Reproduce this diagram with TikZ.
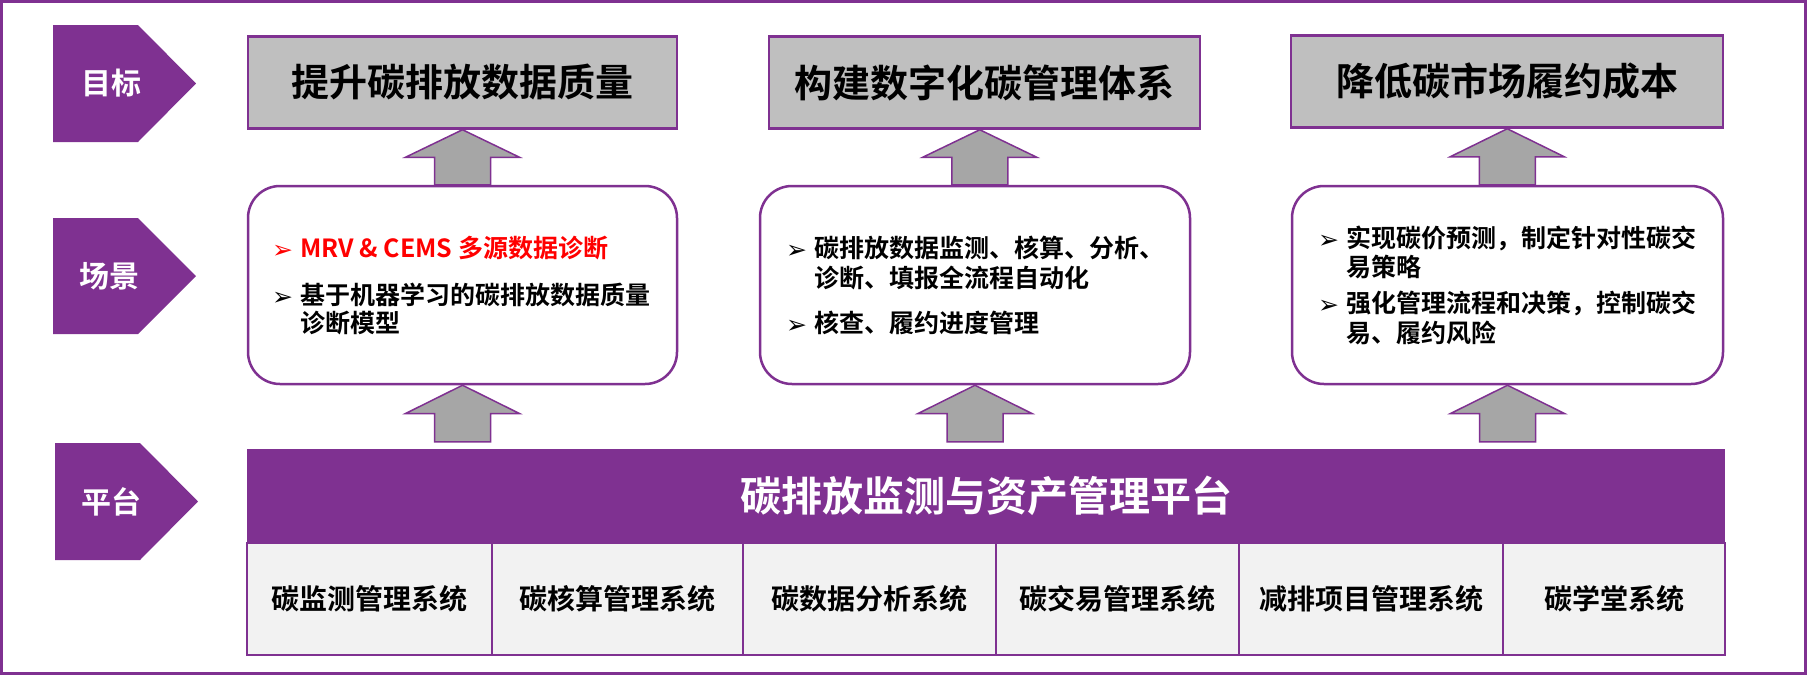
\documentclass[tikz,border=0pt]{standalone}
\usepackage{fontspec}
\setmainfont{Noto Sans CJK SC}[BoldFont={Noto Sans CJK SC Bold}]
\newfontfamily\dejavu{DejaVu Sans}
\usetikzlibrary{calc}
\definecolor{pur}{HTML}{7F3191}
\definecolor{goalgray}{HTML}{BFBFBF}
\definecolor{arrgray}{HTML}{A6A6A6}
\definecolor{cellgray}{HTML}{F2F2F2}
\definecolor{bred}{HTML}{FF0000}
\newcommand{\fs}[2]{\fontsize{#1pt}{#2pt}\selectfont}
\newcommand{\bul}{\makebox[28pt][l]{\raisebox{-1pt}{\dejavu\fontsize{25pt}{25pt}\selectfont ➢}}}
\newcommand{\ind}{\makebox[28pt]{}}
\newcommand{\uparrowbox}[2]{%
  \path[blockarrow] let \p1=(#1), \p2=(#2), \p3=($(\p1)!0.5!(\p2)$) in
    (\x3-28pt,\y1) -- (\x3-28pt,\y3) -- (\x3-57pt,\y3) -- (\x3,\y2) --
    (\x3+57pt,\y3) -- (\x3+28pt,\y3) -- (\x3+28pt,\y1) -- cycle;}
\begin{document}
\begin{tikzpicture}[x=1pt,y=-1pt,
  goalbox/.style={draw=pur, line width=2.5pt, fill=goalgray, minimum height=92pt, inner sep=0pt, font=\bfseries\fs{38}{40}},
  scenbox/.style={draw=pur, line width=2.5pt, fill=white, rounded corners=32pt, minimum height=198pt, inner sep=0pt},
  chev/.style={fill=pur},
  chevlabel/.style={text=white, font=\bfseries\fs{30}{32}, inner sep=0pt},
  bitem/.style={anchor=base west, align=left, inner sep=0pt, font=\bfseries\fs{25}{29}},
  blockarrow/.style={fill=arrgray, draw=pur, line width=1.5pt, line join=miter},
  cell/.style={draw=pur, line width=2pt, fill=cellgray, minimum height=112pt, inner sep=0pt, font=\bfseries\fs{28}{30}},
  banner/.style={fill=pur, minimum height=94pt, minimum width=1478pt, inner sep=0pt, text=white, font=\bfseries\fs{41}{44}}
]
\useasboundingbox (0,0) rectangle (1808,675);
\draw[pur, line width=3pt] (1.5,1.5) rectangle (1805,673);

% chevrons
\fill[chev] (53,25) -- (138,25) -- (196,83.5) -- (138,142) -- (53,142) -- cycle;
\fill[chev] (53,218) -- (138,218) -- (196,276) -- (138,334) -- (53,334) -- cycle;
\fill[chev] (55,443) -- (140,443) -- (198,501.5) -- (140,560) -- (55,560) -- cycle;
\node[chevlabel] (l1) at (111,83) {目标};
\node[chevlabel] (l2) at (109,276) {场景};
\node[chevlabel] (l3) at (111,502) {平台};

% goals
\node[goalbox, minimum width=429pt] (g1) at (462.5,82.5) {提升碳排放数据质量};
\node[goalbox, minimum width=431pt] (g2) at (984.5,82.5) {构建数字化碳管理体系};
\node[goalbox, minimum width=432pt] (g3) at (1507,81.5) {降低碳市场履约成本};

% scenarios
\node[scenbox, minimum width=429pt] (s1) at (462.5,285) {};
\node[scenbox, minimum width=430pt] (s2) at (975,285) {};
\node[scenbox, minimum width=431pt] (s3) at (1507.5,285) {};

% (base anchor of a two-line node is the baseline of its last line)
\node[bitem, text=bred] (s1a) at (272,257.5) {\bul MRV \& CEMS 多源数据诊断};
\node[bitem, font=\bfseries\fs{25}{28}] (s1b) at (272,332.5) {\bul 基于机器学习的碳排放数据质量\\\ind 诊断模型};
\node[bitem, font=\bfseries\fs{25}{30}] (s2a) at (786,287.5) {\bul 碳排放数据监测、核算、分析、\\\ind 诊断、填报全流程自动化};
\node[bitem] (s2b) at (786,332.5) {\bul 核查、履约进度管理};
\node[bitem] (s3a) at (1318,276.5) {\bul 实现碳价预测，制定针对性碳交\\\ind 易策略};
\node[bitem, font=\bfseries\fs{25}{30}] (s3b) at (1318,342.5) {\bul 强化管理流程和决策，控制碳交\\\ind 易、履约风险};

% platform
\node[banner] (plat) at (986,496) {碳排放监测与资产管理平台};
\node[cell, minimum width=245pt] (c1) at (369.5,599) {碳监测管理系统};
\node[cell, minimum width=251pt] (c2) at (617.5,599) {碳核算管理系统};
\node[cell, minimum width=253pt] (c3) at (869.5,599) {碳数据分析系统};
\node[cell, minimum width=243pt] (c4) at (1117.5,599) {碳交易管理系统};
\node[cell, minimum width=264pt] (c5) at (1371,599) {减排项目管理系统};
\node[cell, minimum width=222pt] (c6) at (1614,599) {碳学堂系统};

% block arrows
\uparrowbox{s1.north}{g1.south}
\uparrowbox{s2.north}{g2.south}
\uparrowbox{s3.north}{g3.south}
\uparrowbox{$(s1.south |- plat.north)+(0,-7)$}{s1.south}
\uparrowbox{$(s2.south |- plat.north)+(0,-7)$}{s2.south}
\uparrowbox{$(s3.south |- plat.north)+(0,-7)$}{s3.south}
\end{tikzpicture}
\end{document}
